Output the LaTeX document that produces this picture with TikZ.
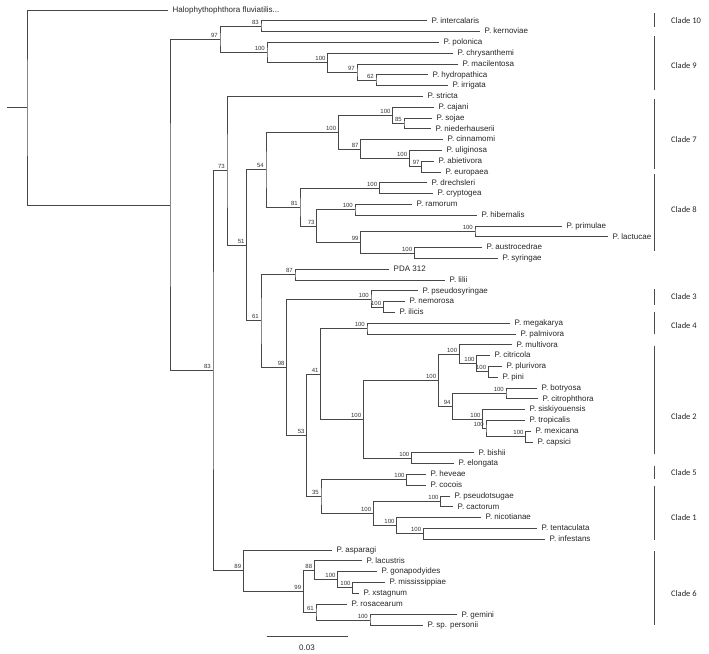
\documentclass[tikz,border=0pt]{standalone}
\usepackage{fontspec}
\setmainfont{Liberation Sans}
\newfontfamily\cladefont{Carlito}
\tikzset{
  br/.style={draw=black!72, line width=0.8pt, line join=miter},
  leaf/.style={anchor=west, inner xsep=4.5pt, inner ysep=0pt, text height=6pt, text depth=1.5pt, font=\fontsize{8}{9}\selectfont, text=black!85},
  bs/.style={anchor=south east, inner sep=0pt, xshift=-2pt, yshift=1.6pt, font=\fontsize{6}{7}\selectfont, text=black!80},
  clade/.style={anchor=west, inner sep=0pt, font=\cladefont\fontsize{8.5}{10}\selectfont, text=black!85},
  cbar/.style={draw=black!70, line width=0.8pt},
  sbtext/.style={inner sep=0pt, font=\fontsize{8}{9}\selectfont, text=black!85}
}
\newcommand\lf[4]{\node[leaf] (#1) at (#2,#3) {#4};}
\newcommand\inode[4]{\coordinate (#1) at (#2,#3); \node[bs] (#1b) at (#1) {#4};}
\newcommand\kids[3]{\draw[br] (#2) -| (#1) |- (#3);}
\begin{document}
\begin{tikzpicture}[x=1pt,y=-1pt]
\useasboundingbox (0,0) rectangle (709,653);
% leaves
\lf{halo}{168}{10.0}{Halophythophthora fluviatilis...}
\lf{inter}{427}{20.8}{P. intercalaris}
\lf{kern}{480}{31.6}{P. kernoviae}
\lf{polo}{439}{42.4}{P. polonica}
\lf{chrys}{453}{53.2}{P. chrysanthemi}
\lf{macil}{458}{64.0}{P. macilentosa}
\lf{hydro}{428}{74.8}{P. hydropathica}
\lf{irrig}{448}{85.6}{P. irrigata}
\lf{stric}{423}{96.4}{P. stricta}
\lf{cajan}{434}{107.2}{P. cajani}
\lf{sojae}{432}{118.0}{P. sojae}
\lf{nieder}{431}{128.8}{P. niederhauserii}
\lf{cinna}{443}{139.6}{P. cinnamomi}
\lf{uligi}{442}{150.4}{P. uliginosa}
\lf{abiet}{434}{161.2}{P. abietivora}
\lf{europ}{441}{172.0}{P. europaea}
\lf{drech}{427}{182.8}{P. drechsleri}
\lf{crypt}{433}{193.6}{P. cryptogea}
\lf{ramor}{412}{204.4}{P. ramorum}
\lf{hiber}{477}{215.2}{P. hibernalis}
\lf{primu}{562}{226.0}{P. primulae}
\lf{lactu}{608}{236.8}{P. lactucae}
\lf{austr}{482}{247.6}{P. austrocedrae}
\lf{syrin}{498}{258.4}{P. syringae}
\lf{pda}{389}{269.2}{PDA 312}
\lf{lilii}{445}{280.0}{P. lilii}
\lf{pseudo}{418}{290.8}{P. pseudosyringae}
\lf{nemor}{405}{301.6}{P. nemorosa}
\lf{ilici}{395}{312.4}{P. ilicis}
\lf{megak}{510}{323.2}{P. megakarya}
\lf{palmi}{516}{334.0}{P. palmivora}
\lf{multi}{512}{344.8}{P. multivora}
\lf{citri}{490}{355.6}{P. citricola}
\lf{pluri}{502}{366.4}{P. plurivora}
\lf{pini}{498}{377.2}{P. pini}
\lf{botry}{537}{388.0}{P. botryosa}
\lf{citro}{538}{398.8}{P. citrophthora}
\lf{siski}{525}{409.6}{P. siskiyouensis}
\lf{tropi}{525}{420.4}{P. tropicalis}
\lf{mexic}{531}{431.2}{P. mexicana}
\lf{capsi}{533}{442.0}{P. capsici}
\lf{bishi}{474}{452.8}{P. bishii}
\lf{elong}{454}{463.6}{P. elongata}
\lf{hevea}{426}{474.4}{P. heveae}
\lf{cocoi}{426}{485.2}{P. cocois}
\lf{ptsug}{450}{496.0}{P. pseudotsugae}
\lf{cacto}{453}{506.8}{P. cactorum}
\lf{nicot}{481}{517.6}{P. nicotianae}
\lf{tenta}{537}{528.4}{P. tentaculata}
\lf{infes}{545}{539.2}{P. infestans}
\lf{aspar}{332}{550.0}{P. asparagi}
\lf{lacus}{362}{560.8}{P. lacustris}
\lf{gonap}{377}{571.6}{P. gonapodyides}
\lf{missi}{385}{582.4}{P. mississippiae}
\lf{xstag}{359}{593.2}{P. xstagnum}
\lf{rosac}{347}{604.0}{P. rosacearum}
\lf{gemin}{457}{614.8}{P. gemini}
\lf{perso}{423}{625.6}{P. sp. personii}
% internal nodes
\coordinate (stub) at (7,107.52);
\coordinate (R) at (27,107.52);
\coordinate (A) at (170,205.04);
\inode{N97}{220}{39.36}{97}
\inode{N83a}{261}{26.2}{83}
\inode{N100a}{267}{52.53}{100}
\inode{N100b}{327.7}{62.65}{100}
\inode{N97b}{357}{72.1}{97}
\inode{N62}{376}{80.2}{62}
\inode{N83}{213}{370.71}{83}
\inode{N73}{227}{170.83}{73}
\inode{N51}{246.7}{245.25}{51}
\inode{N54}{266}{169.64}{54}
\inode{N100cs}{338.3}{132.18}{100}
\inode{N100c}{392.7}{115.3}{100}
\inode{N85}{404}{123.4}{85}
\inode{N87}{360.7}{149.05}{87}
\inode{N100d}{409.3}{158.5}{100}
\inode{N97c}{421.7}{166.6}{97}
\inode{N81}{300}{207.1}{81}
\inode{N100dr}{379.3}{188.2}{100}
\inode{N73b}{316.7}{226.0}{73}
\inode{N100r}{355}{209.8}{100}
\inode{N99a}{360.7}{242.2}{99}
\inode{N100pr}{475}{231.4}{100}
\inode{N100au}{414.3}{253.0}{100}
\inode{N61}{261}{320.85}{61}
\inode{N87b}{295}{274.6}{87}
\inode{N98}{286.7}{367.1}{98}
\inode{N100p}{371}{298.9}{100}
\inode{N100n}{383.3}{307.0}{100}
\inode{N53}{306.7}{435.29}{53}
\inode{N41}{320.7}{373.91}{41}
\inode{N100mg}{367}{328.6}{100}
\inode{NX}{363.3}{419.22}{100}
\inode{N100core}{438.3}{380.24}{100}
\inode{N100mu}{459.3}{354.25}{100}
\inode{N100ci}{476.7}{363.7}{100}
\inode{N100pl}{488.3}{371.8}{100}
\inode{N94}{452.7}{406.23}{94}
\inode{N100bo}{506}{393.4}{100}
\inode{N100si}{482.7}{419.05}{100}
\inode{N100tr}{486}{428.5}{100}
\inode{N100mx}{525.7}{436.6}{100}
\inode{N100bi}{411.5}{458.2}{100}
\inode{N35}{321}{496.68}{35}
\inode{N100hv}{406.7}{479.8}{100}
\inode{N100cl}{373.3}{513.55}{100}
\inode{N100pt}{440.7}{501.4}{100}
\inode{N100ni}{396.7}{525.7}{100}
\inode{N100te}{423.3}{533.8}{100}
\inode{N89}{243.3}{570.59}{89}
\inode{N99b}{303.3}{591.18}{99}
\inode{N88}{314.3}{570.25}{88}
\inode{N100go}{337.7}{579.7}{100}
\inode{N100mi}{352.7}{587.8}{100}
\inode{N61b}{316}{612.1}{61}
\inode{N100ge}{370}{620.2}{100}
% branches
\draw[br] (stub) -- (R);
\kids{R}{halo}{A}
\kids{A}{N97}{N83}
\kids{N97}{N83a}{N100a}
\kids{N83a}{inter}{kern}
\kids{N100a}{polo}{N100b}
\kids{N100b}{chrys}{N97b}
\kids{N97b}{macil}{N62}
\kids{N62}{hydro}{irrig}
\kids{N83}{N73}{N89}
\kids{N73}{stric}{N51}
\kids{N51}{N54}{N61}
\kids{N54}{N100cs}{N81}
\kids{N100cs}{N100c}{N87}
\kids{N100c}{cajan}{N85}
\kids{N85}{sojae}{nieder}
\kids{N87}{cinna}{N100d}
\kids{N100d}{uligi}{N97c}
\kids{N97c}{abiet}{europ}
\kids{N81}{N100dr}{N73b}
\kids{N100dr}{drech}{crypt}
\kids{N73b}{N100r}{N99a}
\kids{N100r}{ramor}{hiber}
\kids{N99a}{N100pr}{N100au}
\kids{N100pr}{primu}{lactu}
\kids{N100au}{austr}{syrin}
\kids{N61}{N87b}{N98}
\kids{N87b}{pda}{lilii}
\kids{N98}{N100p}{N53}
\kids{N100p}{pseudo}{N100n}
\kids{N100n}{nemor}{ilici}
\kids{N53}{N41}{N35}
\kids{N41}{N100mg}{NX}
\kids{N100mg}{megak}{palmi}
\kids{NX}{N100core}{N100bi}
\kids{N100core}{N100mu}{N94}
\kids{N100mu}{multi}{N100ci}
\kids{N100ci}{citri}{N100pl}
\kids{N100pl}{pluri}{pini}
\kids{N94}{N100bo}{N100si}
\kids{N100bo}{botry}{citro}
\kids{N100si}{siski}{N100tr}
\kids{N100tr}{tropi}{N100mx}
\kids{N100mx}{mexic}{capsi}
\kids{N100bi}{bishi}{elong}
\kids{N35}{N100hv}{N100cl}
\kids{N100hv}{hevea}{cocoi}
\kids{N100cl}{N100pt}{N100ni}
\kids{N100pt}{ptsug}{cacto}
\kids{N100ni}{nicot}{N100te}
\kids{N100te}{tenta}{infes}
\kids{N89}{aspar}{N99b}
\kids{N99b}{N88}{N61b}
\kids{N88}{lacus}{N100go}
\kids{N100go}{gonap}{N100mi}
\kids{N100mi}{missi}{xstag}
\kids{N61b}{rosac}{N100ge}
\kids{N100ge}{gemin}{perso}
% scale bar
\coordinate (sbl) at (266.7,636.7);
\coordinate (sbr) at (347.7,636.7);
\draw[br] (sbl) -- (sbr);
\node[sbtext] (sbt) at (307,647.5) {0.03};
% clade bars and labels
\foreach \nm/\ta/\tb/\ty/\lab in {c10/13/27/20.5/Clade 10, c9/36/90/66/Clade 9, c7/99/169/140/Clade 7, c8/174/251/210/Clade 8, c3/289/305/296.5/Clade 3, c4/312/334/326/Clade 4, c2/346/454/417/Clade 2, c5/466/479/472.5/Clade 5, c1/486/540/517.5/Clade 1, c6/551/625/594/Clade 6}{
  \coordinate (\nm t) at (654,\ta);
  \coordinate (\nm b) at (654,\tb);
  \draw[cbar] (\nm t) -- (\nm b);
  \node[clade] (\nm l) at (671,\ty) {\lab};
}
\end{tikzpicture}
\end{document}
